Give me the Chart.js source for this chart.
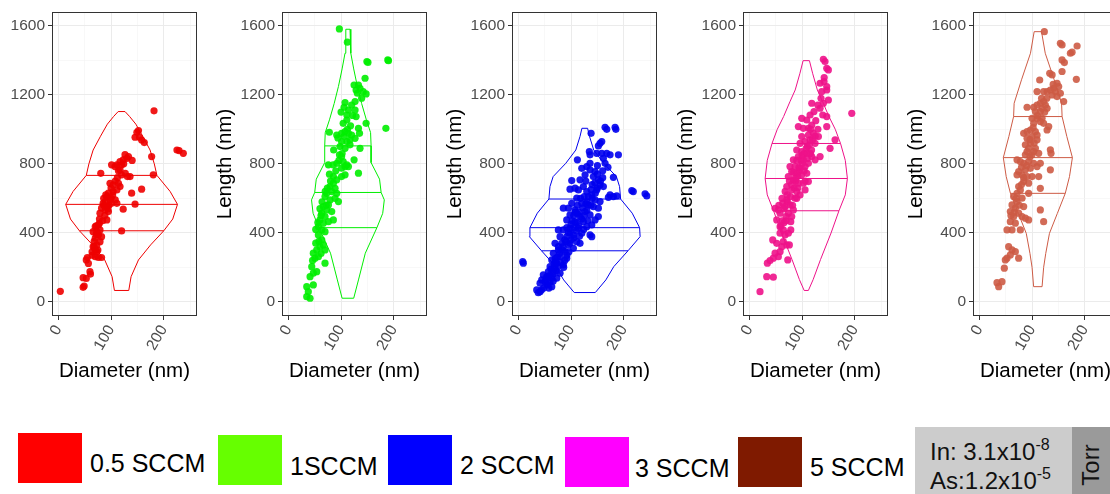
<!DOCTYPE html>
<html>
<head>
<meta charset="utf-8">
<script src="https://cdn.jsdelivr.net/npm/chart.js@4.4.1/dist/chart.umd.min.js"></script>
<style>
  body { margin: 0; width: 1110px; height: 494px; overflow: hidden; background: #fff; position: relative;
         font-family: "Liberation Sans", Arial, sans-serif; }
  canvas { position: absolute; top: 0; }
  .key { position: absolute; }
  .lab { position: absolute; font-size: 25px; line-height: 25px; color: #000; white-space: nowrap; }
  .press { position: absolute; font-size: 24px; line-height: 24px; color: #111; white-space: nowrap; }
  .press sup { font-size: 16px; vertical-align: 10px; line-height: 0; }
</style>
</head>
<body>
<div id="legend"></div>
<script>
// ============================
// Data
// ============================
const groupNames = ["0.5 SCCM", "1SCCM", "2 SCCM", "3 SCCM", "5 SCCM"];
const pointColors = ["#EE0000", "#00EE00", "#0000EE", "#EE1289", "#CD5B45"];
const legendColors = ["#FF0000", "#66FF00", "#0000FF", "#FF00FF", "#7F1A00"];

const xTicks = [0, 50, 100, 150, 200, 250];
const xLabels = [0, 100, 200];
const yTicks = [0, 200, 400, 600, 800, 1000, 1200, 1400, 1600];
const yLabels = [0, 400, 800, 1200, 1600];

// [diameter, length] pairs
const pts05 = [
  [3.8,61],[47,140],[53,136],[49,92],[47,84],[60,175],[61,161],[55,257],[53,243],[57,223],
  [70,262],[76,257],[82,257],[73,291],[68,320],[66,320],[73,330],[79,349],[70,369],[82,378],
  [76,388],[73,407],[66,407],[79,417],[76,446],[70,436],[92,475],[79,514],[95,523],[89,533],
  [82,543],[92,552],[85,571],[101,571],[111,571],[89,581],[98,591],[108,591],[92,610],[95,630],
  [104,639],[111,649],[117,668],[98,687],[104,678],[114,687],[80.5,745],[117,765],[120,736],[127,745],
  [131,726],[136,726],[101,794],[107.6,784],[111,794],[120,794],[117,813],[123,823],[130,832],[133,842],
  [126.5,853],[120,411],[123,537],[145.5,566],[139,630],[158,653],[180,736],[177,842],[145.5,954],[154,954],
  [158,938],[163,923],[149,983],[152,993],[181.5,1107],[225,880],[229,877],[237,861],
  [86,600],[96,560],[103,620],[88,500],[84,470],[78,455],[72,390],[68,350],[75,300],[64,290],
  [90,620],[100,660],[108,700],[112,720],[100,600],[94,540],[78,480],[72,440],[86,560],[114,760],
  [124,800],[140,820],[70,300],[64,270]
];
const pts1 = [
  [96.8,1582],[112,1505],[149,1393],[151,1388],[188.6,1402],[190,1398],[145.5,1296],
  [124.7,1257],[133,1257],[128.5,1228],[136,1238],[131,1209],[139,1180],[147.5,1205],[142,1218],
  [126.6,1161],[120,1141],[107.6,1155],[105.7,1128],[114,1112],[111,1083],[126.6,1112],[128.5,1074],
  [147.5,1035],[185,1006],[111,1054],[104,1035],[77.8,983],
  [91.8,967],[101,977],[107.6,987],[114,977],[120,967],[133,1006],[135,977],[126.6,948],[117,939],
  [111,929],[101,929],[98,900],[107.6,890],[117,910],[136,890],
  [101,842],[97,852],[104,813],[111,794],[114,784],[107.6,784],[101,775],[92,803],[85,794],[76,794],
  [124.7,823],[133,746],[107.6,736],[101,726],
  [85.4,726],[91.8,707],[85.4,688],[79,668],[88.6,658],[82.3,639],[91.8,629],[72.8,629],[69.6,610],
  [79,591],[88.6,600],[95,581],[76,562],[66.4,552],[72.8,533],[82.3,523],[63.4,514],[69.6,494],[60,475],
  [66.4,456],[85.4,475],[76,465],[57,436],[63.4,417],[69.6,407],[57,388],[63.4,359],[66.4,330],[60,320],
  [53.9,301],[47.4,282],[50.6,253],[57,262],[69.6,301],[69.6,224],[44.4,204],[47.4,166],[53.9,175],
  [41.2,146],[34.9,88],[47.4,98],[37.9,59],[34.9,30],[41.2,21],
  [60,540],[64,580],[70,640],[74,660],[80,700],[90,760],[96,820],[102,860],[106,960],[112,1000],
  [118,1020],[122,1080],[100,1100],[62,500],[56,460],[52,420],[58,350],[52,340],[46,240],[62,280],
  [72,560],[78,740],[86,880],[94,950]
];
const pts2 = [
  [164.5,1012],[167.7,1000],[183.5,1012],[185,1000],[138,977],[155,919],[151.8,904],[158.2,929],
  [134.7,871],[136,852],[148.7,861],[158.2,861],[167.7,861],[174,852],[189.8,852],[161.3,832],[164.5,803],
  [112,823],[136,803],[129.8,784],[120.3,774],[136,765],[126.6,736],[145.5,755],[142.3,726],[151.8,707],
  [155,678],[161.3,668],[148.7,649],[180.3,722],[101.3,703],[98,653],[107.6,659],
  [215.2,645],[218,639],[240.4,626],[243.6,614],[170.8,606],[180.3,610],[186.7,614],[174,620],
  [117,707],[123.4,668],[113.9,649],[129.8,639],[139.3,620],[145.5,591],[155,581],[110.8,601],[101.3,571],
  [120.3,571],[132.8,562],[142.3,552],[151.8,543],[94.9,543],[85.4,543],[107.6,533],[126.6,523],[136,504],
  [117,494],[98,504],[91.8,475],[107.6,465],[123.4,465],[145.5,475],[151.8,494],[139.3,446],[129.8,436],
  [113.9,427],[98,427],[85.4,417],[75.9,417],[136,388],[120.3,398],[104.4,388],[91.8,378],[79.1,378],
  [110.8,349],[98,339],[82.3,339],[69.6,339],[117,339],[75.9,301],[88.6,291],[104.4,310],[66.4,281],
  [79.1,262],[91.8,253],[63.4,243],[72.8,224],[85.4,214],[60.2,204],[69.6,195],[57,175],[66.4,175],
  [79.1,166],[47.4,156],[53.9,146],[63.4,137],[44.4,127],[50.7,117],[60.2,117],[72.8,137],[41.2,108],
  [53.9,98],[63.4,88],[34.9,69],[37.9,53],[41.2,59],[8.3,234],[9.5,224],[139.3,378],
  [95,400],[100,450],[115,520],[130,580],[112,560],[88,360],[76,320],[70,250],[58,150],[92,430],
  [105,500],[125,610],[140,680],[150,740],[128,700],[118,600],[102,470],[84,300],[68,220],[52,130],
  [60,150],[66,160],[72,180],[62,190],[75,205],[80,230],[70,230],[88,240],[78,280],[92,270],
  [85,320],[95,330],[90,350],[100,360],[105,370],[98,400],[110,410],[105,430],[115,440],[110,460],
  [120,480],[125,500],[112,510],[130,530],[122,545],[138,560],[128,570],[140,600],[133,610],[146,630],
  [138,650],[150,660],[145,690],[156,700],[160,720],[150,790],[170,780],[160,760],[96,290],[74,260],
  [108,520],[116,380],[124,420],[132,470],[86,200],[56,100],[48,80],[44,70],[58,80],[66,120]
];
const pts3 = [
  [20.3,59],[33,146],[45.5,143],[34.2,224],[39.3,239],[48.8,282],[55,262],[45.5,253],[58.3,291],
  [44.4,359],[52,339],[61.5,320],[64.5,349],[71,330],[75.9,330],[72.9,243],[48.8,542],[55,533],[58.3,514],
  [52,475],[58.3,436],[64.5,417],[74,398],[67.7,388],[58.3,398],[78.6,417],[63.4,572],[71,591],[67.7,552],
  [77.2,562],[74,514],[80.4,494],[83.5,533],[69.6,494],[78.6,465],[71,668],[80.4,649],[89.9,639],[96.2,620],
  [86.7,601],[105.7,649],[112,697],[102.5,688],[93,688],[83.5,707],[74,726],[80.4,755],[89.9,745],[99.4,736],
  [108.9,745],[77.2,784],[86.7,784],[96.2,774],[105.7,784],[83.5,823],[93,842],[102.5,823],[112,803],
  [89.9,880],[99.4,871],[108.9,861],[118.4,842],[124.7,823],[134.2,842],[96.2,919],[105.7,929],[115.2,939],
  [124.7,919],[131,958],[112,967],[121.4,977],[99.4,958],[93,1016],[102.5,1006],[112,1006],[118.4,1025],
  [108.9,1054],[99.4,1064],[153.1,890],[162.6,939],[146.8,1016],[115.2,1083],[122.7,1103],[118.4,1151],
  [134.2,1122],[139.3,1083],[146.8,1074],[149.9,1170],[140.4,1151],[137.4,1219],[146.8,1228],[134.2,1267],
  [141.7,1277],[146.8,1248],[149.9,1344],[146.8,1354],[140.4,1406],[143.5,1393],[194.3,1093],
  [88,700],[95,760],[100,800],[92,730],[85,660],[78,610],[72,580],[66,540],[62,470],[110,900],
  [118,880],[125,960],[130,1000],[100,850],[106,700],[90,600],
  [72,620],[80,680],[88,720],[94,780],[98,820],[104,860],[108,890],[114,910],[84,750],[76,700],
  [90,820],[116,1000],[120,940],[126,1050],[130,1140],[136,1180],[142,1300],[66,460],[60,440],[70,470],
  [62,600],[56,560],[68,640],[82,560],[92,660],[104,760],[110,830],[116,860]
];
const pts5 = [
  [123.3,1566],[153.7,1499],[156.9,1489],[185.4,1483],[172.7,1441],[175.9,1447],[156.9,1402],[161.3,1387],
  [156.9,1335],[184,1290],[133.5,1325],[138,1315],[114.5,1286],[147.4,1267],[150.5,1248],[141,1238],
  [134.7,1228],[144.2,1219],[153.7,1209],[128.5,1219],[122,1219],[109.5,1219],[138,1199],[147.4,1190],
  [160,1161],[122,1161],[115.7,1151],[125.2,1141],[109.5,1141],[103.1,1128],[119,1122],[128.5,1122],
  [115.7,1103],[106.3,1103],[90.5,1128],[100,1064],[109.5,1064],[119,1064],[103.1,1035],[115.7,1045],
  [122,1035],[131.6,1016],[128.5,996],[84.1,977],[90.5,987],[96.8,996],[106.3,987],[109.5,967],[100,958],
  [90.5,948],[109.5,939],[96.8,919],[87.3,910],[93.5,890],[106.3,890],[103.1,871],[90.5,871],[112.6,861],
  [100,852],[87.3,852],[71.5,823],[77.8,813],[84.1,803],[93.5,813],[103.1,803],[115.7,803],[109.5,784],
  [96.8,774],[87.3,765],[74.6,755],[71.5,736],[81,736],[90.5,726],[100,726],[84.1,697],[93.5,688],
  [134.7,881],[136,861],[134.7,765],[112.6,726],[115.7,658],[74.6,668],[77.8,649],[71.5,629],[65.1,610],
  [81,601],[93.5,629],[71.5,581],[62,562],[68.3,543],[84.1,552],[58.8,523],[74.6,514],[65.1,494],[81,494],
  [87.3,485],[58.8,465],[68.3,456],[62,417],[77.8,417],[52.5,417],[115.7,533],[122,465],[93.5,475],
  [55.6,320],[62,301],[68.3,291],[74.6,253],[52.5,253],[58.8,272],[49.3,243],[47.4,195],[33.5,111],
  [36.7,88],[43,117],
  [96,940],[102,1010],[110,1080],[118,1180],[128,1180],[140,1260],[96,840],[80,780],[84,720],[90,790],
  [70,600],[76,560],[60,500],[66,520],[80,680],[104,920],[124,1100]
];

// violin outlines: length levels and half widths (nm of diameter)
const violinCenter = [120, 113, 126, 108, 111];
const vio05Y = [66, 146, 243, 330, 412, 480, 565, 640, 733, 800, 880, 960, 1030, 1075, 1103];
const vio05W = [13.6, 18, 32, 55, 80, 97, 106, 92, 67, 62, 54, 40, 27, 15, 6.5];
const vio1Y = [21, 127, 282, 430, 513, 591, 634, 711, 807, 904, 981, 1055, 1150, 1248, 1350, 1441, 1580];
const vio1W = [11, 20, 33, 55, 66, 69, 63, 60, 44, 44, 43, 35, 26, 18, 11, 5.5, 4];
const vio2Y = [54, 127, 204, 296, 378, 430, 514, 596, 668, 726, 803, 880, 959, 1006];
const vio2W = [20, 40, 55, 82, 105, 104, 90, 68, 66, 60, 36, 17, 9, 5.4];
const vio3Y = [66, 129, 245, 399, 528, 620, 715, 820, 918, 1000, 1074, 1160, 1228, 1325, 1398];
const vio3W = [4, 13, 27, 47, 62, 74, 78, 74, 65, 55, 43, 31, 21, 12, 6];
const vio5Y = [88, 200, 281, 397, 513, 629, 726, 836, 958, 1074, 1151, 1287, 1441, 1566];
const vio5W = [8, 11, 15, 22, 37, 52, 60, 65.5, 55, 46, 45, 31, 14, 7];

// 25 / 50 / 75 % lines
const quart05 = [412, 565, 733];
const quart1 = [430, 634, 904];
const quart2 = [296, 430, 596];
const quart3 = [528, 715, 918];
const quart5 = [629, 836, 1074];

const panels = [
  { pts: pts05, vy: vio05Y, vw: vio05W, q: quart05 },
  { pts: pts1,  vy: vio1Y,  vw: vio1W,  q: quart1 },
  { pts: pts2,  vy: vio2Y,  vw: vio2W,  q: quart2 },
  { pts: pts3,  vy: vio3Y,  vw: vio3W,  q: quart3 },
  { pts: pts5,  vy: vio5Y,  vw: vio5W,  q: quart5 }
];

// ============================
// Layout
// ============================
const plotLeft = [52, 282, 512, 743, 973];
const plotW = 145, canvasH = 394, xAxisH = 78, topPad = 12;

Chart.defaults.font.family = '"Liberation Sans", Arial, sans-serif';
Chart.defaults.animation = false;

function halfWidthAt(ys, ws, y) {
  for (let k = 0; k < ys.length - 1; k++) {
    if (y >= ys[k] && y <= ys[k + 1]) {
      const t = (y - ys[k]) / (ys[k + 1] - ys[k]);
      return ws[k] + t * (ws[k + 1] - ws[k]);
    }
  }
  return 0;
}

const frame = {
  id: "frame",
  afterDraw(chart) {
    const { ctx, chartArea: a } = chart;
    ctx.save();
    ctx.strokeStyle = "#333333";
    ctx.lineWidth = 1;
    ctx.strokeRect(a.left + 0.5, a.top + 0.5, a.width - 1, a.height - 1);
    ctx.restore();
  }
};

function gridOpts(majors) {
  const isMajor = c => c.tick && majors.includes(c.tick.value);
  return {
    color: c => isMajor(c) ? "#EBEBEB" : "#F3F3F3",
    lineWidth: c => isMajor(c) ? 1 : 0.6,
    tickColor: c => isMajor(c) ? "#333333" : "rgba(0,0,0,0)",
    tickLength: 4,
    tickWidth: 1
  };
}

function makePanel(i) {
  const p = panels[i];
  const left = plotLeft[i];
  const canvasLeft = i === 0 ? 0 : left - 80;
  const axisW = left - canvasLeft;
  const cw = axisW + plotW + 6;

  const canvas = document.createElement("canvas");
  canvas.width = cw;
  canvas.height = canvasH;
  canvas.style.left = canvasLeft + "px";
  document.body.appendChild(canvas);

  const c = violinCenter[i];
  const outline = [];
  p.vy.forEach((y, k) => outline.push({ x: c - p.vw[k], y }));
  for (let k = p.vy.length - 1; k >= 0; k--) outline.push({ x: c + p.vw[k], y: p.vy[k] });
  outline.push(outline[0]);

  const quartSets = p.q.map(q => {
    const hw = halfWidthAt(p.vy, p.vw, q);
    return {
      data: [{ x: c - hw, y: q }, { x: c + hw, y: q }],
      showLine: true, pointRadius: 0, borderColor: pointColors[i], borderWidth: 1, order: 0
    };
  });

  new Chart(canvas.getContext("2d"), {
    type: "scatter",
    data: {
      datasets: [
        {
          data: p.pts.map(d => ({ x: d[0], y: d[1] })),
          pointRadius: 3.6, pointBorderWidth: 0,
          backgroundColor: pointColors[i] + "E6", order: 1
        },
        {
          data: outline, showLine: true, pointRadius: 0,
          borderColor: pointColors[i], borderWidth: 1, order: 0
        },
        ...quartSets
      ]
    },
    options: {
      responsive: false,
      devicePixelRatio: 1,
      events: [],
      layout: { padding: { top: topPad, right: cw - axisW - plotW, left: 0, bottom: 0 } },
      plugins: { legend: { display: false }, tooltip: { enabled: false } },
      scales: {
        x: {
          type: "linear", min: -12, max: 263,
          afterBuildTicks: s => { s.ticks = xTicks.map(v => ({ value: v })); },
          afterFit: s => { s.height = xAxisH; s.paddingLeft = 0; s.paddingRight = 0; },
          grid: gridOpts(xLabels),
          border: { display: false },
          ticks: {
            color: "#4D4D4D", font: { size: 15.5 }, padding: 2,
            minRotation: 60, maxRotation: 60, autoSkip: false,
            callback: v => xLabels.includes(v) ? String(v) : ""
          },
          title: {
            display: true, text: "Diameter (nm)", color: "#000", font: { size: 20.5 },
            padding: { top: 0, bottom: 10 }
          }
        },
        y: {
          type: "linear", min: -82, max: 1680,
          afterBuildTicks: s => { s.ticks = yTicks.map(v => ({ value: v })); },
          afterFit: s => { s.width = axisW; s.paddingTop = 0; s.paddingBottom = 0; },
          grid: gridOpts(yLabels),
          border: { display: false },
          ticks: {
            color: "#4D4D4D", font: { size: 15.5 }, padding: 3,
            callback: v => yLabels.includes(v) ? String(v) : ""
          },
          title: {
            display: i > 0, text: "Length (nm)", color: "#000", font: { size: 20.5 },
            padding: { top: 11, bottom: 0 }
          }
        }
      }
    },
    plugins: [frame]
  });
}

panels.forEach((_, i) => makePanel(i));

// ============================
// Legend strip
// ============================
const keyLeft = [18, 218, 388, 565, 738];
const keyTop = [433, 435, 435, 437, 437];
const labLeft = [90, 290, 460, 635, 810];
const labMid = [463, 466, 465, 468, 467];

const legend = document.getElementById("legend");
groupNames.forEach((name, i) => {
  legend.insertAdjacentHTML("beforeend",
    `<div class="key" style="left:${keyLeft[i]}px;top:${keyTop[i]}px;width:64px;height:50px;background:${legendColors[i]}"></div>
     <div class="lab" style="left:${labLeft[i]}px;top:${labMid[i] - 12}px">${name}</div>`);
});

legend.insertAdjacentHTML("beforeend", `
  <div class="key" style="left:915px;top:427px;width:157px;height:67px;background:#CCCCCC"></div>
  <div class="key" style="left:1072px;top:427px;width:38px;height:67px;background:#9A9A9A"></div>
  <div class="press" style="left:930px;top:440px">In: 3.1x10<sup>-8</sup></div>
  <div class="press" style="left:930px;top:469px">As:1.2x10<sup>-5</sup></div>
  <div class="press" style="left:1091px;top:465px;font-size:24px;transform:translate(-50%,-50%) rotate(-90deg)">Torr</div>
`);
</script>
</body>
</html>
